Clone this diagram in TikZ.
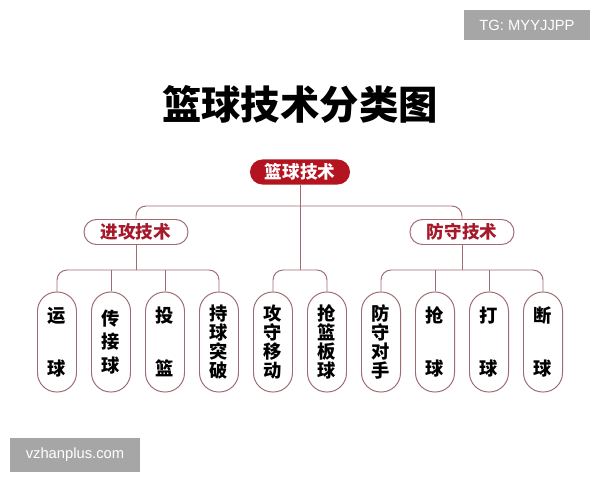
\documentclass[tikz,border=0pt]{standalone}
\usepackage{fontspec}
\newfontfamily\cjk{Noto Sans CJK SC}
\newfontfamily\wmfont{Liberation Sans}
\definecolor{rootred}{RGB}{180,20,32}
\definecolor{labelred}{RGB}{165,25,42}
\definecolor{linecol}{RGB}{158,108,114}
\definecolor{wmgray}{RGB}{166,166,166}
\begin{document}
\begin{tikzpicture}[x=0.025cm,y=-0.025cm,
        link/.style={draw=linecol,line width=0.7pt,rounded corners=0.25cm},
        rootbox/.style={fill=rootred,text=white,rounded corners=0.31cm,minimum width=2.5cm,minimum height=0.625cm,inner sep=0pt,font=\cjk\bfseries\fontsize{12.5}{14}\selectfont},
        groupbox/.style={draw=linecol,line width=0.7pt,fill=white,text=labelred,rounded corners=0.31cm,minimum width=2.6cm,minimum height=0.625cm,inner sep=0pt,font=\cjk\bfseries\fontsize{12.5}{14}\selectfont},
        leafbox/.style={draw=linecol,line width=0.7pt,fill=white,rounded corners=0.48cm,minimum width=0.975cm,minimum height=2.5cm,inner sep=0pt,align=center,font=\cjk\bfseries\fontsize{13}{13.6}\selectfont},
        wmark/.style={fill=wmgray,text=white,inner xsep=11pt,inner ysep=7pt,font=\wmfont\fontsize{10.5}{12}\selectfont}]
        \useasboundingbox (0,0) rectangle (600,480);

        \node[wmark] (tg) at (527,25) {TG: MYYJJPP};
        \node[wmark] (site) at (75,455) {vzhanplus.com};

        \node[font=\cjk\bfseries\fontsize{28}{30}\selectfont] (title) at (300,104) {篮球技术分类图};

        \node[rootbox] (root) at (300,172) {篮球技术};
        \node[groupbox] (att) at (136,232) {进攻技术};
        \node[groupbox] (def) at (462,232) {防守技术};

        \coordinate (top) at (300,206);
        \coordinate (lbar) at (136,270);
        \coordinate (mbar) at (300,270);
        \coordinate (rbar) at (462,270);

        \node[leafbox] (l1) at (57,342) {运\\[24pt]球};
        \node[leafbox] (l2) at (111,342) {传\\[3pt]接\\[3pt]球};
        \node[leafbox] (l3) at (165,342) {投\\[24pt]篮};
        \node[leafbox] (l4) at (219,342) {持\\球\\突\\破};
        \node[leafbox] (l5) at (273,342) {攻\\守\\移\\动};
        \node[leafbox] (l6) at (327,342) {抢\\篮\\板\\球};
        \node[leafbox] (l7) at (381,342) {防\\守\\对\\手};
        \node[leafbox] (l8) at (435,342) {抢\\[24pt]球};
        \node[leafbox] (l9) at (489,342) {打\\[24pt]球};
        \node[leafbox] (l10) at (543,342) {断\\[24pt]球};

        % tree lines
        \path[link] (root.south) -- (mbar);
        \path[link] (att.north) |- (top) -| (def.north);
        \path[link] (att.south) -- (lbar);
        \path[link] (def.south) -- (rbar);
        \path[link] (l1.north) |- (lbar) -| (l4.north);
        \path[link] (l2.north) -- (l2.north |- lbar);
        \path[link] (l3.north) -- (l3.north |- lbar);
        \path[link] (l5.north) |- (mbar) -| (l6.north);
        \path[link] (l7.north) |- (rbar) -| (l10.north);
        \path[link] (l8.north) -- (l8.north |- rbar);
        \path[link] (l9.north) -- (l9.north |- rbar);
    \end{tikzpicture}
\end{document}
